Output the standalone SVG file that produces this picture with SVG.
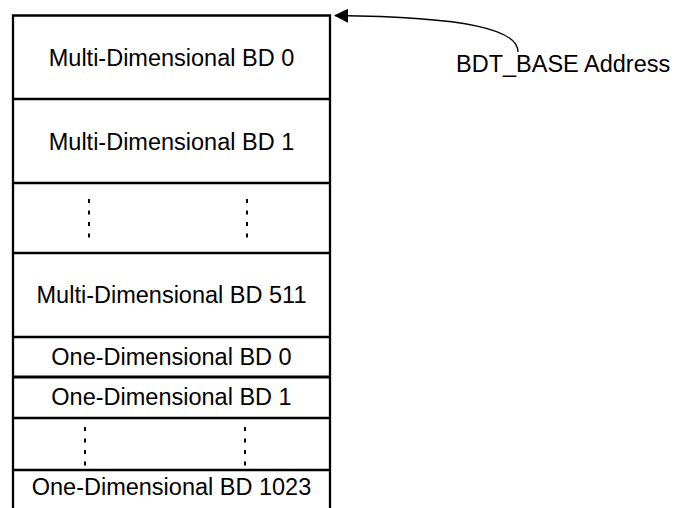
<svg xmlns="http://www.w3.org/2000/svg" width="677" height="508" viewBox="0 0 677 508">
<defs>
<style>
.box{fill:none;stroke:#000;stroke-width:2.3}
.t{font-family:"Liberation Sans",Arial,sans-serif;font-size:23.5px;fill:#000;text-anchor:middle}
.dot{stroke:#000;stroke-width:2;stroke-dasharray:4 7.5;fill:none}
.conn{fill:none;stroke:#000;stroke-width:1.3}
</style>
<marker id="ah" viewBox="0 0 14 14" refX="13" refY="7" markerWidth="14" markerHeight="14" markerUnits="userSpaceOnUse" orient="auto">
<path d="M0,0 L14,7 L0,14 Z" fill="#000"/>
</marker>
</defs>
<rect width="677" height="508" fill="#fff"/>
<g id="table">
<path class="box" d="M13,508 V15.5 H330 V508"/>
</g>
<g id="md0"><line class="box" x1="13" y1="99" x2="330" y2="99"/><text class="t" x="171.5" y="66">Multi-Dimensional BD 0</text></g>
<g id="md1"><line class="box" x1="13" y1="183" x2="330" y2="183"/><text class="t" x="171.5" y="150">Multi-Dimensional BD 1</text></g>
<g id="mddots"><line class="box" x1="13" y1="253" x2="330" y2="253"/><line class="dot" x1="89" y1="199" x2="89" y2="238"/><line class="dot" x1="247" y1="199" x2="247" y2="238"/></g>
<g id="md511"><line class="box" x1="13" y1="337" x2="330" y2="337"/><text class="t" x="171.5" y="303">Multi-Dimensional BD 511</text></g>
<g id="od0"><line class="box" x1="13" y1="377" x2="330" y2="377" style="stroke-width:3"/><text class="t" x="171.5" y="365">One-Dimensional BD 0</text></g>
<g id="od1"><line class="box" x1="13" y1="418" x2="330" y2="418"/><text class="t" x="171.5" y="405">One-Dimensional BD 1</text></g>
<g id="oddots"><line class="box" x1="13" y1="470" x2="330" y2="470"/><line class="dot" x1="85" y1="427" x2="85" y2="466"/><line class="dot" x1="245" y1="427" x2="245" y2="466"/></g>
<g id="od1023"><text class="t" x="171.5" y="495">One-Dimensional BD 1023</text></g>
<g id="label"><text x="456" y="72" style="font-family:'Liberation Sans',Arial,sans-serif;font-size:23.5px;fill:#000">BDT_BASE Address</text></g>
<g id="connectors">
<path class="conn" d="M518,52 C518,30 470,17 335,15.5" marker-end="url(#ah)"/>
</g>
</svg>
